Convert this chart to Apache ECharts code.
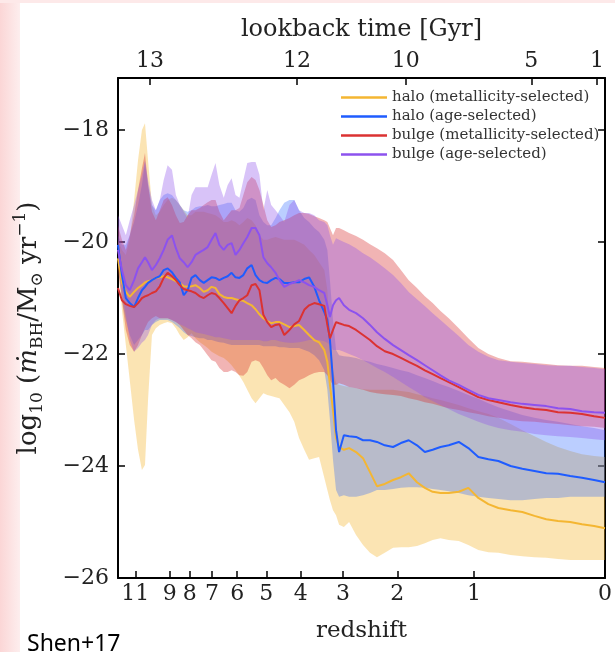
<!DOCTYPE html>
<html>
<head>
<meta charset="utf-8">
<script src="https://cdn.jsdelivr.net/npm/echarts@6/dist/echarts.min.js"></script>
<style>
  html, body { margin: 0; padding: 0; background: #ffffff; }
  #chart { width: 615px; height: 652px; }
</style>
</head>
<body>
<div id="chart"></div>
<script>
// x positions: log10(1 + z)
const logOnePlusZ = [
  1.119, 1.110, 1.101, 1.092, 1.082, 1.073, 1.064, 1.057, 1.050, 1.041,
  1.032, 1.023, 1.014, 1.005, 0.995, 0.986, 0.977, 0.968, 0.959, 0.950,
  0.941, 0.931, 0.922, 0.913, 0.904, 0.895, 0.886, 0.876, 0.867, 0.858,
  0.849, 0.840, 0.831, 0.822, 0.812, 0.803, 0.794, 0.785, 0.776, 0.767,
  0.757, 0.748, 0.737, 0.725, 0.714, 0.703, 0.691, 0.680, 0.668, 0.657,
  0.645, 0.638, 0.632, 0.625, 0.618, 0.611, 0.600, 0.588, 0.572, 0.556,
  0.540, 0.524, 0.506, 0.487, 0.469, 0.451, 0.432, 0.414, 0.396, 0.378,
  0.359, 0.336, 0.314, 0.291, 0.268, 0.245, 0.217, 0.190, 0.162, 0.135,
  0.108, 0.080, 0.053, 0.025, 0.000
];

// halo (metallicity-selected): median and band
const haloMetMedian = [
  -20.29,-20.73,-20.89,-20.98,-20.89,-20.82,-20.77,-20.72,-20.70,-20.68,
  -20.64,-20.63,-20.61,-20.63,-20.66,-20.70,-20.73,-20.79,-20.80,-20.79,
  -20.77,-20.82,-20.89,-20.86,-20.80,-20.82,-20.93,-20.98,-21.00,-21.00,
  -21.02,-21.04,-21.05,-21.09,-21.13,-21.20,-21.29,-21.36,-21.41,-21.45,
  -21.43,-21.43,-21.47,-21.52,-21.50,-21.48,-21.57,-21.66,-21.75,-21.79,
  -21.93,-22.14,-22.55,-23.00,-23.50,-23.66,-23.71,-23.68,-23.75,-23.86,
  -24.11,-24.36,-24.32,-24.25,-24.20,-24.13,-24.29,-24.39,-24.46,-24.48,
  -24.48,-24.46,-24.39,-24.57,-24.68,-24.75,-24.79,-24.82,-24.89,-24.95,
  -24.98,-25.00,-25.04,-25.07,-25.11
];
const haloMetUpper = [
  -19.96,-20.14,-20.23,-19.96,-19.25,-18.54,-18.00,-17.88,-18.54,-19.34,
  -19.52,-19.46,-19.34,-19.25,-19.21,-19.25,-19.34,-19.43,-19.52,-19.52,
  -19.46,-19.46,-19.46,-19.48,-19.50,-19.52,-19.57,-19.64,-19.64,-19.61,
  -19.64,-19.70,-19.64,-19.57,-19.61,-19.70,-19.88,-19.96,-19.96,-19.93,
  -19.91,-19.93,-19.96,-19.96,-19.96,-20.00,-20.05,-20.14,-20.23,-20.36,
  -20.50,-20.86,-21.57,-22.29,-22.52,-22.55,-22.57,-22.59,-22.61,-22.63,
  -22.64,-22.64,-22.64,-22.64,-22.66,-22.68,-22.72,-22.75,-22.79,-22.82,
  -22.86,-22.91,-22.97,-23.02,-23.07,-23.14,-23.25,-23.36,-23.47,-23.57,
  -23.66,-23.73,-23.79,-23.82,-23.84
];
const haloMetLower = [
  -20.41,-21.21,-21.84,-22.47,-23.18,-23.71,-24.07,-23.98,-22.82,-21.66,
  -21.54,-21.48,-21.45,-21.43,-21.45,-21.54,-21.66,-21.75,-21.70,-21.63,
  -21.72,-21.79,-21.84,-21.89,-21.96,-22.00,-22.04,-22.07,-22.13,-22.20,
  -22.29,-22.39,-22.50,-22.64,-22.79,-22.88,-22.79,-22.70,-22.73,-22.75,
  -22.77,-22.79,-22.91,-23.04,-23.21,-23.50,-23.71,-23.89,-23.86,-23.84,
  -24.21,-24.43,-24.61,-24.79,-24.88,-25.05,-25.09,-25.00,-25.23,-25.41,
  -25.55,-25.63,-25.55,-25.46,-25.45,-25.45,-25.43,-25.38,-25.32,-25.29,
  -25.32,-25.34,-25.41,-25.50,-25.54,-25.55,-25.59,-25.61,-25.63,-25.64,
  -25.66,-25.68,-25.68,-25.68,-25.68
];

// halo (age-selected)
const haloAgeMedian = [
  -20.05,-20.59,-21.00,-21.09,-21.16,-21.00,-20.86,-20.80,-20.73,-20.68,
  -20.64,-20.61,-20.50,-20.47,-20.54,-20.64,-20.72,-20.95,-20.86,-20.64,
  -20.59,-20.68,-20.73,-20.68,-20.63,-20.64,-20.68,-20.64,-20.61,-20.55,
  -20.63,-20.64,-20.59,-20.47,-20.41,-20.59,-20.68,-20.72,-20.73,-20.68,
  -20.64,-20.66,-20.73,-20.73,-20.72,-20.72,-20.66,-20.63,-20.80,-21.04,
  -21.25,-21.39,-21.75,-22.47,-23.36,-23.75,-23.45,-23.47,-23.48,-23.54,
  -23.54,-23.57,-23.63,-23.66,-23.59,-23.54,-23.63,-23.75,-23.71,-23.66,
  -23.63,-23.57,-23.68,-23.84,-23.88,-23.91,-24.00,-24.05,-24.09,-24.13,
  -24.14,-24.18,-24.21,-24.25,-24.29
];
const haloAgeUpper = [
  -19.88,-20.05,-20.05,-19.88,-19.64,-19.34,-18.98,-18.57,-18.98,-19.34,
  -19.43,-19.25,-19.16,-19.13,-19.16,-19.25,-19.34,-19.43,-19.46,-19.43,
  -19.38,-19.36,-19.36,-19.34,-19.36,-19.36,-19.34,-19.32,-19.30,-19.30,
  -19.43,-19.46,-19.39,-19.25,-19.21,-19.25,-19.52,-19.64,-19.70,-19.70,
  -19.57,-19.43,-19.30,-19.25,-19.25,-19.43,-19.57,-19.64,-19.75,-19.82,
  -19.96,-20.14,-20.68,-21.39,-21.93,-22.02,-22.04,-22.05,-22.07,-22.11,
  -22.14,-22.18,-22.21,-22.25,-22.29,-22.32,-22.38,-22.43,-22.48,-22.54,
  -22.59,-22.66,-22.73,-22.80,-22.88,-22.95,-23.02,-23.09,-23.14,-23.18,
  -23.21,-23.25,-23.29,-23.32,-23.36
];
const haloAgeLower = [
  -20.32,-21.04,-21.39,-21.66,-21.84,-21.75,-21.66,-21.57,-21.57,-21.48,
  -21.43,-21.39,-21.39,-21.39,-21.43,-21.48,-21.54,-21.61,-21.66,-21.68,
  -21.70,-21.72,-21.72,-21.75,-21.75,-21.77,-21.79,-21.80,-21.82,-21.84,
  -21.84,-21.84,-21.84,-21.84,-21.84,-21.84,-21.84,-21.86,-21.86,-21.86,
  -21.86,-21.88,-21.88,-21.89,-21.89,-21.89,-21.93,-21.96,-22.02,-22.11,
  -22.29,-22.64,-23.18,-23.89,-24.43,-24.55,-24.52,-24.55,-24.55,-24.52,
  -24.48,-24.43,-24.43,-24.41,-24.39,-24.38,-24.38,-24.39,-24.41,-24.43,
  -24.45,-24.48,-24.52,-24.55,-24.57,-24.59,-24.61,-24.61,-24.59,-24.57,
  -24.57,-24.55,-24.55,-24.55,-24.55
];

// bulge (metallicity-selected)
const bulgeMetMedian = [
  -20.82,-21.04,-21.11,-21.14,-21.16,-21.09,-21.00,-20.97,-20.95,-20.91,
  -20.88,-20.79,-20.64,-20.55,-20.61,-20.68,-20.77,-20.84,-20.86,-20.88,
  -20.91,-20.97,-21.00,-20.95,-20.91,-20.93,-21.00,-21.09,-21.18,-21.27,
  -21.14,-21.04,-21.00,-20.95,-20.77,-20.75,-20.86,-21.30,-21.43,-21.52,
  -21.48,-21.47,-21.66,-21.57,-21.47,-21.41,-21.21,-21.13,-21.09,-21.11,
  -21.14,-21.48,-21.72,-21.57,-21.43,-21.45,-21.48,-21.50,-21.57,-21.66,
  -21.75,-21.86,-21.95,-22.00,-22.07,-22.14,-22.21,-22.29,-22.36,-22.43,
  -22.50,-22.59,-22.68,-22.77,-22.82,-22.86,-22.91,-22.95,-22.98,-23.00,
  -23.04,-23.05,-23.07,-23.11,-23.14
];
const bulgeMetUpper = [
  -19.70,-19.96,-20.14,-19.88,-19.52,-19.07,-18.68,-18.41,-18.98,-19.46,
  -19.61,-19.43,-19.25,-19.20,-19.34,-19.52,-19.66,-19.64,-19.52,-19.43,
  -19.43,-19.39,-19.34,-19.29,-19.25,-19.25,-19.46,-19.61,-19.52,-19.43,
  -19.43,-19.39,-19.16,-18.93,-18.84,-18.89,-19.07,-19.34,-19.61,-19.73,
  -19.70,-19.64,-19.61,-19.57,-19.52,-19.48,-19.48,-19.50,-19.54,-19.57,
  -19.61,-19.64,-19.75,-19.88,-19.75,-19.75,-19.79,-19.84,-19.89,-19.96,
  -20.04,-20.11,-20.20,-20.32,-20.50,-20.68,-20.82,-20.97,-21.09,-21.23,
  -21.36,-21.54,-21.72,-21.89,-22.00,-22.07,-22.13,-22.14,-22.16,-22.18,
  -22.20,-22.21,-22.21,-22.23,-22.25
];
const bulgeMetLower = [
  -20.50,-21.04,-21.57,-21.84,-21.96,-21.84,-21.66,-21.54,-21.43,-21.36,
  -21.32,-21.36,-21.36,-21.36,-21.39,-21.43,-21.48,-21.57,-21.66,-21.72,
  -21.79,-21.84,-21.93,-22.02,-22.11,-22.14,-22.25,-22.32,-22.32,-22.29,
  -22.32,-22.38,-22.39,-22.32,-22.14,-22.11,-22.14,-22.25,-22.38,-22.47,
  -22.43,-22.50,-22.55,-22.61,-22.55,-22.47,-22.43,-22.38,-22.34,-22.32,
  -22.32,-22.38,-22.47,-22.55,-22.55,-22.52,-22.55,-22.59,-22.61,-22.64,
  -22.68,-22.70,-22.72,-22.73,-22.75,-22.79,-22.82,-22.86,-22.89,-22.93,
  -22.97,-23.00,-23.04,-23.07,-23.11,-23.14,-23.18,-23.20,-23.21,-23.23,
  -23.25,-23.27,-23.29,-23.30,-23.32
];

// bulge (age-selected)
const bulgeAgeMedian = [
  -20.14,-20.50,-20.77,-20.86,-20.68,-20.47,-20.36,-20.27,-20.36,-20.50,
  -20.41,-20.29,-20.14,-19.96,-19.88,-20.11,-20.29,-20.36,-20.45,-20.36,
  -20.23,-20.18,-20.14,-20.09,-19.96,-19.84,-20.05,-20.14,-20.05,-20.02,
  -20.23,-20.14,-20.02,-19.91,-19.75,-19.75,-19.88,-20.27,-20.38,-20.45,
  -20.55,-20.68,-20.80,-20.75,-20.72,-20.68,-20.72,-20.77,-20.80,-20.86,
  -20.91,-21.13,-21.34,-21.13,-21.04,-21.00,-21.13,-21.21,-21.27,-21.36,
  -21.48,-21.61,-21.73,-21.84,-21.93,-22.02,-22.11,-22.20,-22.29,-22.38,
  -22.47,-22.55,-22.64,-22.73,-22.79,-22.82,-22.86,-22.89,-22.91,-22.93,
  -22.97,-22.98,-23.02,-23.04,-23.05
];
const bulgeAgeUpper = [
  -19.52,-19.70,-19.88,-19.61,-19.34,-19.07,-18.80,-18.54,-18.89,-19.25,
  -19.43,-19.25,-18.89,-18.63,-18.71,-19.16,-19.34,-19.46,-19.57,-19.16,
  -19.02,-19.02,-19.02,-19.02,-18.80,-18.59,-18.98,-19.21,-18.98,-18.86,
  -19.16,-19.21,-18.89,-18.59,-18.57,-18.57,-18.80,-19.43,-19.07,-19.34,
  -19.43,-19.52,-19.64,-19.34,-19.25,-19.43,-19.48,-19.48,-19.52,-19.61,
  -19.64,-19.70,-19.88,-20.05,-19.93,-19.96,-20.00,-20.04,-20.11,-20.20,
  -20.27,-20.36,-20.47,-20.59,-20.73,-20.89,-21.02,-21.14,-21.27,-21.39,
  -21.52,-21.68,-21.84,-21.96,-22.05,-22.11,-22.14,-22.16,-22.18,-22.20,
  -22.21,-22.21,-22.23,-22.25,-22.27
];
const bulgeAgeLower = [
  -20.36,-20.86,-21.30,-21.75,-21.96,-21.89,-21.80,-21.75,-21.66,-21.48,
  -21.39,-21.36,-21.36,-21.36,-21.39,-21.43,-21.47,-21.50,-21.54,-21.57,
  -21.61,-21.63,-21.64,-21.66,-21.68,-21.70,-21.70,-21.72,-21.73,-21.75,
  -21.75,-21.75,-21.75,-21.75,-21.75,-21.75,-21.75,-21.77,-21.77,-21.75,
  -21.75,-21.77,-21.79,-21.80,-21.80,-21.79,-21.77,-21.75,-21.75,-21.75,
  -21.77,-21.80,-21.84,-21.93,-21.93,-21.93,-21.96,-22.00,-22.05,-22.11,
  -22.18,-22.25,-22.32,-22.41,-22.50,-22.59,-22.68,-22.77,-22.84,-22.91,
  -22.98,-23.07,-23.14,-23.21,-23.27,-23.32,-23.36,-23.39,-23.43,-23.45,
  -23.47,-23.48,-23.50,-23.52,-23.54
];

// axis ticks
const redshiftTicks = [0, 1, 2, 3, 4, 5, 6, 7, 8, 9, 11];
const lookbackTicks = [13, 12, 10, 5, 1];
const lookbackTickRedshift = [10.1, 4.1, 1.87, 0.477, 0.043];
const yTicks = [-26, -24, -22, -20, -18];

const seriesNames = [
  'halo (metallicity-selected)',
  'halo (age-selected)',
  'bulge (metallicity-selected)',
  'bulge (age-selected)'
];
const lineColors = ['#f4b632', '#1f5cff', '#db3232', '#8c52ee'];
const bandColors = [
  'rgba(244,182,50,0.37)',
  'rgba(31,92,255,0.30)',
  'rgba(214,40,40,0.35)',
  'rgba(142,82,236,0.35)'
];

const SERIF = '"DejaVu Serif", "Liberation Serif", serif';
const zPos = z => Math.log10(1 + z);
const redshiftPos = redshiftTicks.map(zPos);
const lookbackPos = lookbackTickRedshift.map(zPos);

function pairs(ys) { return logOnePlusZ.map((x, i) => [x, ys[i]]); }

// shaded percentile band: one polygon, upper edge then lower edge reversed
function bandSeries(id, lower, upper, fill) {
  return {
    type: 'custom', name: id, silent: true, z: 1,
    xAxisIndex: 0, yAxisIndex: 0,
    data: pairs(upper).slice(0, 1),
    renderItem: function (params, api) {
      const pts = [];
      for (let i = 0; i < logOnePlusZ.length; i++) pts.push(api.coord([logOnePlusZ[i], upper[i]]));
      for (let i = logOnePlusZ.length - 1; i >= 0; i--) pts.push(api.coord([logOnePlusZ[i], lower[i]]));
      return { type: 'polygon', shape: { points: pts }, style: { fill: fill, stroke: null } };
    }
  };
}

function lineSeries(name, ys, color) {
  return {
    type: 'line', name: name, data: pairs(ys), symbol: 'none', z: 5,
    lineStyle: { color: color, width: 2 }, itemStyle: { color: color },
    emphasis: { disabled: true }
  };
}

const medians = [haloMetMedian, haloAgeMedian, bulgeMetMedian, bulgeAgeMedian];
const uppers = [haloMetUpper, haloAgeUpper, bulgeMetUpper, bulgeAgeUpper];
const lowers = [haloMetLower, haloAgeLower, bulgeMetLower, bulgeAgeLower];

const series = [];
for (let k = 0; k < 4; k++) series.push(bandSeries('band' + k, lowers[k], uppers[k], bandColors[k]));
for (let k = 0; k < 4; k++) series.push(lineSeries(seriesNames[k], medians[k], lineColors[k]));

function nearestIndex(arr, v) {
  let best = 0;
  for (let i = 1; i < arr.length; i++) if (Math.abs(arr[i] - v) < Math.abs(arr[best] - v)) best = i;
  return best;
}

const frameLine = { show: true, onZero: false, lineStyle: { color: '#000', width: 2 } };
const tickStyle = { lineStyle: { color: '#000', width: 1.5 } };

const option = {
  animation: false,
  backgroundColor: '#ffffff',
  textStyle: { fontFamily: SERIF },
  grid: { left: 118, right: 8, top: 78, bottom: 74 },
  legend: {
    data: seriesNames.map(n => ({ name: n, icon: 'rect' })),
    orient: 'vertical',
    left: 336, top: 85,
    itemWidth: 46, itemHeight: 2.5, itemGap: 4,
    textStyle: { fontFamily: SERIF, fontSize: 15, color: '#333', lineHeight: 15 },
    selectedMode: false
  },
  xAxis: [
    {
      type: 'value', position: 'bottom', inverse: true,
      min: 0, max: 1.119,
      name: 'redshift', nameLocation: 'middle', nameGap: 42,
      nameTextStyle: { fontFamily: SERIF, fontSize: 23, color: '#222' },
      axisLine: frameLine,
      axisTick: Object.assign({ show: true, inside: true, length: 7, customValues: redshiftPos }, tickStyle),
      axisLabel: {
        customValues: redshiftPos, margin: 5,
        fontFamily: SERIF, fontSize: 22, color: '#222',
        formatter: v => String(redshiftTicks[nearestIndex(redshiftPos, v)])
      },
      splitLine: { show: false }
    },
    {
      type: 'value', position: 'top', inverse: true,
      min: 0, max: 1.119,
      name: 'lookback time [Gyr]', nameLocation: 'middle', nameGap: 36,
      nameTextStyle: { fontFamily: SERIF, fontSize: 24, color: '#222' },
      axisLine: frameLine,
      axisTick: Object.assign({ show: true, inside: true, length: 7, customValues: lookbackPos }, tickStyle),
      axisLabel: {
        customValues: lookbackPos, margin: 6,
        fontFamily: SERIF, fontSize: 22, color: '#222',
        formatter: v => String(lookbackTicks[nearestIndex(lookbackPos, v)])
      },
      splitLine: { show: false }
    }
  ],
  yAxis: [
    {
      type: 'value', position: 'left',
      min: -26, max: -17.07,
      name: '{t|log}{s|10}{t| (}{i|ṁ}{s|BH}{t|/M}{s|⊙}{t| yr}{p|−1}{t|)}',
      nameLocation: 'middle', nameGap: 72, nameRotate: 90,
      nameTextStyle: {
        color: '#222',
        rich: {
          t: { fontFamily: SERIF, fontSize: 26, color: '#222', lineHeight: 34 },
          i: { fontFamily: SERIF, fontSize: 26, fontStyle: 'italic', color: '#222', lineHeight: 34 },
          s: { fontFamily: SERIF, fontSize: 17, color: '#222', verticalAlign: 'bottom', lineHeight: 17 },
          p: { fontFamily: SERIF, fontSize: 17, color: '#222', verticalAlign: 'top', lineHeight: 17 }
        }
      },
      axisLine: frameLine,
      axisTick: Object.assign({ show: true, inside: true, length: 7, customValues: yTicks }, tickStyle),
      axisLabel: {
        customValues: yTicks, margin: 9,
        fontFamily: SERIF, fontSize: 22, color: '#222',
        formatter: v => '\u2212' + Math.abs(v)
      },
      splitLine: { show: false }
    },
    {
      type: 'value', position: 'right',
      min: -26, max: -17.07,
      axisLine: frameLine,
      axisTick: Object.assign({ show: true, inside: true, length: 7, customValues: yTicks }, tickStyle),
      axisLabel: { show: false },
      splitLine: { show: false }
    }
  ],
  graphic: [
    {
      type: 'rect', left: 0, top: 0, z: -10, silent: true,
      shape: { width: 20, height: 652 },
      style: {
        fill: {
          type: 'linear', x: 0, y: 0, x2: 1, y2: 0,
          colorStops: [{ offset: 0, color: '#fbd6d6' }, { offset: 1, color: '#fdeeee' }]
        }
      }
    },
    {
      type: 'rect', left: 0, top: 0, z: -10, silent: true,
      shape: { width: 615, height: 3 },
      style: { fill: '#fde9e9' }
    },
    {
      type: 'text', left: 27, top: 633, silent: true,
      style: { text: 'Shen+17', font: '23px "Noto Sans", "Open Sans", sans-serif', fill: '#000' }
    }
  ],
  series: series
};

const chart = echarts.init(document.getElementById('chart'), null, { renderer: 'canvas' });
chart.setOption(option);
</script>
</body>
</html>
